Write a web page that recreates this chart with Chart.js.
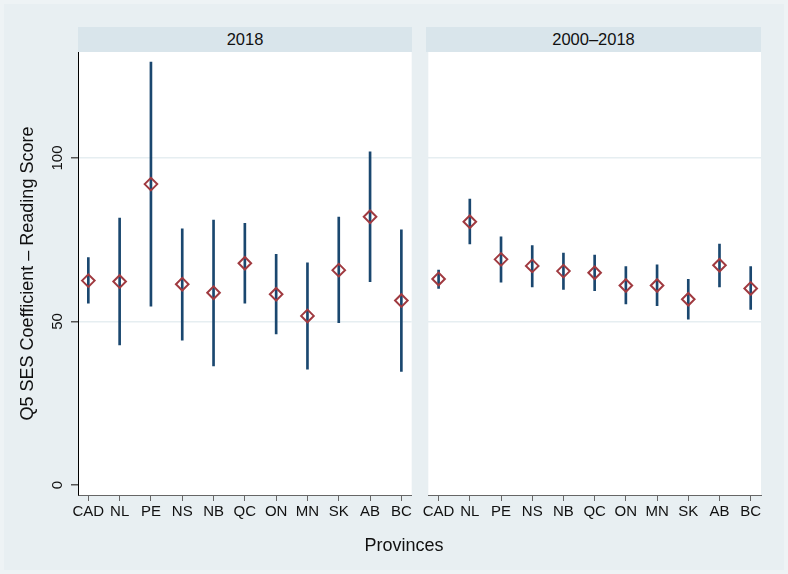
<!DOCTYPE html>
<html lang="en">

<head>
    <meta charset="UTF-8">
    <title>Q5 SES Coefficient - Reading Score</title>
    <script src="https://cdn.jsdelivr.net/npm/chart.js"></script>
    <style>
        body {
            margin: 0;
            background: #eef3f5;
            font-family: 'Liberation Sans', Arial, sans-serif;
        }

        #wrap {
            position: relative;
            width: 788px;
            height: 574px;
        }

        #inner {
            position: absolute;
            left: 4px;
            top: 4px;
            right: 4px;
            bottom: 4px;
            background: #e8eff2;
        }

        canvas {
            position: absolute;
            top: 0;
        }

        .strip {
            position: absolute;
            top: 27px;
            height: 25px;
            line-height: 25px;
            background: #d9e5eb;
            text-align: center;
            font-size: 16.5px;
            color: #111;
        }

        #xtitle {
            position: absolute;
            left: 304px;
            width: 200px;
            top: 536px;
            line-height: 18px;
            text-align: center;
            font-size: 18px;
            color: #111;
        }
    </style>
</head>

<body>
    <div id="wrap">
        <div id="inner"></div>
        <canvas id="left" width="420" height="574" style="left:0"></canvas>
        <canvas id="right" width="368" height="574" style="left:420px"></canvas>
        <div class="strip" style="left:78px;width:334px">2018</div>
        <div class="strip" style="left:426px;width:335px">2000–2018</div>
        <div id="xtitle">Provinces</div>
    </div>
    <script>
        const provinces = ['CAD', 'NL', 'PE', 'NS', 'NB', 'QC', 'ON', 'MN', 'SK', 'AB', 'BC'];
        const yTicks = [0, 50, 100];

        // 2018 only
        const est2018 = [62.5, 62.2, 92.0, 61.4, 58.8, 67.8, 58.3, 51.7, 65.7, 82.0, 56.4];
        const lo2018 = [55.6, 42.8, 54.7, 44.3, 36.4, 55.6, 46.2, 35.4, 49.6, 62.2, 34.7];
        const hi2018 = [69.5, 81.6, 129.3, 78.3, 81.0, 80.0, 70.5, 67.9, 81.9, 101.9, 78.0];

        // pooled 2000-2018
        const estPooled = [63.0, 80.5, 69.0, 67.0, 65.4, 64.9, 61.0, 61.0, 56.8, 67.2, 60.1];
        const loPooled = [60.1, 73.7, 62.0, 60.6, 59.8, 59.4, 55.4, 54.8, 50.7, 60.6, 53.7];
        const hiPooled = [65.7, 87.4, 75.9, 73.2, 70.9, 70.3, 66.8, 67.3, 62.9, 73.7, 66.8];

        const navy = '#1a476f';
        const red = '#a03a40';
        const font = "'Liberation Sans', Arial, sans-serif";

        // white plot region behind the marks
        const plotBg = {
            id: 'plotBg',
            beforeDraw(chart) {
                const { ctx, chartArea: a } = chart;
                ctx.save();
                ctx.fillStyle = '#ffffff';
                ctx.fillRect(a.left, a.top, a.right - a.left, a.bottom - a.top);
                ctx.restore();
            }
        };

        const makePanel = (id, est, lo, hi, showY) => {
            const ctx = document.getElementById(id).getContext('2d');
            new Chart(ctx, {
                type: 'bar',
                data: {
                    datasets: [{
                        type: 'scatter',
                        data: provinces.map((p, i) => ({ x: i, y: est[i] })),
                        pointStyle: 'rectRot',
                        pointRadius: 6.3,
                        borderColor: red,
                        backgroundColor: 'rgba(0,0,0,0)',
                        borderWidth: 2,
                        order: 0
                    }, {
                        type: 'bar',
                        data: provinces.map((p, i) => ({ x: i, y: [lo[i], hi[i]] })),
                        backgroundColor: navy,
                        borderWidth: 0,
                        barThickness: 2,
                        grouped: false,
                        order: 1
                    }]
                },
                options: {
                    responsive: false,
                    animation: false,
                    devicePixelRatio: 1,
                    layout: {
                        padding: showY ? { top: 52, right: 8, left: 0, bottom: 0 } : { top: 52, right: 27, left: 6, bottom: 0 }
                    },
                    plugins: {
                        legend: { display: false },
                        tooltip: { enabled: false }
                    },
                    scales: {
                        x: {
                            type: 'linear',
                            min: -0.33,
                            max: 10.33,
                            offset: false,
                            afterBuildTicks: s => { s.ticks = provinces.map((p, i) => ({ value: i })); },
                            afterFit: s => { s.height = 79; },
                            border: { display: true, color: '#666666', width: 1 },
                            grid: {
                                offset: false,
                                drawOnChartArea: false,
                                tickLength: 6,
                                tickColor: '#666666'
                            },
                            ticks: {
                                autoSkip: false,
                                maxRotation: 0,
                                minRotation: 0,
                                padding: 2,
                                color: '#111',
                                font: { family: font, size: 15 },
                                callback: v => provinces[v]
                            }
                        },
                        y: {
                            min: -3.06,
                            max: 132.4,
                            afterBuildTicks: s => { s.ticks = yTicks.map(v => ({ value: v })); },
                            afterFit: s => { s.width = showY ? 78 : 0; },
                            border: { display: showY, color: '#000000', width: 1 },
                            grid: {
                                color: c => c.tick && c.tick.value === 0 ? 'rgba(0,0,0,0)' : '#e6eef1',
                                lineWidth: 1.5,
                                drawTicks: showY,
                                tickLength: 7,
                                tickColor: '#555555'
                            },
                            ticks: {
                                display: showY,
                                minRotation: 90,
                                maxRotation: 90,
                                crossAlign: 'center',
                                padding: 1,
                                color: '#111',
                                font: { family: font, size: 15 }
                            },
                            title: {
                                display: showY,
                                text: 'Q5 SES Coefficient – Reading Score',
                                color: '#111',
                                font: { family: font, size: 18 },
                                padding: { top: 17, bottom: 0 }
                            }
                        }
                    }
                },
                plugins: [plotBg]
            });
        };

        makePanel('left', est2018, lo2018, hi2018, true);
        makePanel('right', estPooled, loPooled, hiPooled, false);
    </script>
</body>

</html>
